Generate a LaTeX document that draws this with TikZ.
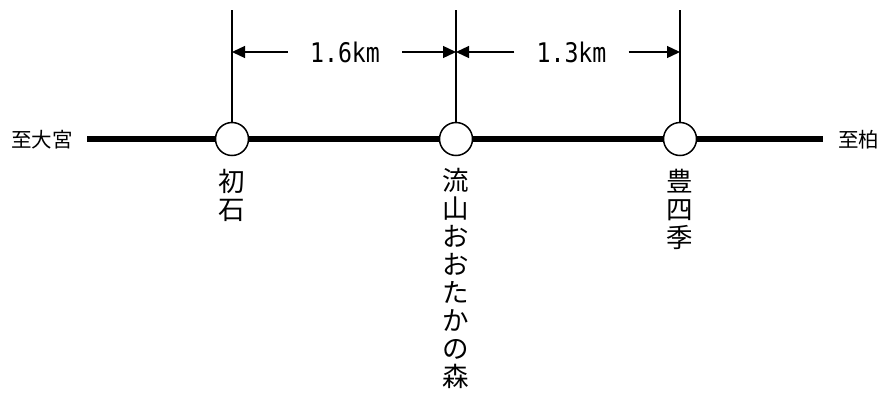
\documentclass[tikz,border=0pt]{standalone}
\usepackage{fontspec}
\usetikzlibrary{arrows.meta}
\newfontfamily\jpfont{Noto Sans CJK JP}
\newfontfamily\kmfont[FakeStretch=0.86]{DejaVu Sans Mono}
\begin{document}
\begin{tikzpicture}[x=1pt,y=-1pt,
  station/.style={circle,draw,line width=1.5pt,fill=white,minimum size=33pt,inner sep=0pt},
  rail/.style={line width=5.5pt},
  tick/.style={line width=1.3pt},
  dim/.style={line width=1.3pt,-{Triangle[length=13pt,width=12pt]}},
  dist/.style={font=\kmfont\fontsize{27}{30}\selectfont,inner xsep=0pt,inner ysep=0pt,minimum width=114pt},
  vlabel/.style={font=\jpfont\fontsize{26.5}{28}\selectfont,align=center,inner sep=0pt,anchor=north},
  endlabel/.style={font=\jpfont\fontsize{20.5}{24}\selectfont,inner sep=0pt}]
\useasboundingbox (0,0) rectangle (882,394);
\coordinate (L) at (87,139);
\coordinate (R) at (823,139);
\draw[rail] (L) -- (R);
\node[station] (s1) at (232,139) {};
\node[station] (s2) at (456,139) {};
\node[station] (s3) at (680,139) {};
\coordinate (t1) at (232,10);
\coordinate (t2) at (456,10);
\coordinate (t3) at (680,10);
\draw[tick] (t1) -- (s1.north);
\draw[tick] (t2) -- (s2.north);
\draw[tick] (t3) -- (s3.north);
\coordinate (m1) at (232,52);
\coordinate (m2) at (456,52);
\coordinate (m3) at (680,52);
\node[dist] (d1) at (345,52) {1.6km};
\node[dist] (d2) at (571.5,52) {1.3km};
\draw[dim] (d1.west) -- (m1);
\draw[dim] (d1.east) -- (m2);
\draw[dim] (d2.west) -- (m2);
\draw[dim] (d2.east) -- (m3);
\node[endlabel,anchor=east] (w) at (73,139.5) {至大宮};
\node[endlabel,anchor=west] (e) at (838,139.5) {至柏};
\node[vlabel] (n1) at (232,169) {初\\石};
\node[vlabel] (n2) at (456,168) {流\\山\\お\\お\\た\\か\\の\\森};
\node[vlabel] (n3) at (680,169) {豊\\四\\季};
\end{tikzpicture}
\end{document}
